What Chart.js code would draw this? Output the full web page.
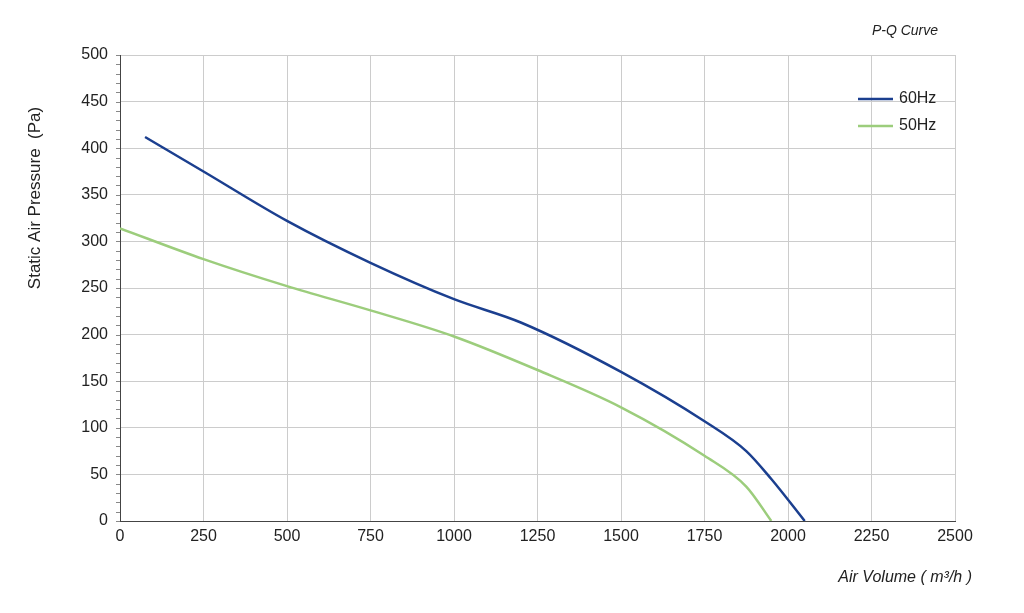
<!DOCTYPE html>
<html><head><meta charset="utf-8">
<script src="https://cdn.jsdelivr.net/npm/chart.js@4"></script>
<style>html,body{margin:0;background:#fff}#wrap{width:1024px;height:613px}</style>
</head><body><div id="wrap"><canvas id="c"></canvas></div>
<script>
const hz60X = [75, 250, 500, 750, 1000, 1200, 1500, 1750, 1875, 1950, 2050];
const hz60Y = [412, 375, 322, 277, 238, 213, 160, 107, 75, 45, 0];
const hz50X = [0, 250, 500, 750, 1000, 1250, 1500, 1750, 1875, 1950];
const hz50Y = [314, 281, 252, 226, 198, 162, 122, 70, 37, 0];
const seriesNames = ['60Hz', '50Hz'];
const seriesColors = ['#1b3f8f', '#9ccd7c'];

const zip = (xs, ys) => xs.map((x, i) => ({ x: x, y: ys[i] }));

const extras = {
  id: 'extras',
  afterDraw(chart) {
    const c = chart.ctx, a = chart.chartArea, ys = chart.scales.y;
    c.save();
    // minor ticks on y axis
    c.strokeStyle = '#888'; c.lineWidth = 1;
    for (let v = 0; v <= 500; v += 10) {
      const py = Math.round(ys.getPixelForValue(v)) + 0.5;
      c.beginPath(); c.moveTo(a.left - 4, py); c.lineTo(a.left, py); c.stroke();
    }
    c.fillStyle = '#222';
    c.font = 'italic 14px "Liberation Sans", Arial';
    c.textAlign = 'right'; c.textBaseline = 'middle';
    c.fillText('P-Q Curve', 938, 31);
    c.font = 'italic 16px "Liberation Sans", Arial';
    c.fillText('Air Volume ( m³/h )', 972, 578);
    c.translate(35, 198); c.rotate(-Math.PI / 2);
    c.textAlign = 'center';
    c.font = '17px "Liberation Sans", Arial';
    c.fillText('Static Air Pressure  (Pa)', 0, 0);
    c.restore();
    // legend
    c.save();
    c.font = '16px "Liberation Sans", Arial';
    c.textBaseline = 'middle';
    seriesNames.forEach((n, i) => {
      const y = 99 + i * 27;
      c.strokeStyle = seriesColors[i]; c.lineWidth = 2.5;
      c.beginPath(); c.moveTo(858, y); c.lineTo(893, y); c.stroke();
      c.fillStyle = '#222'; c.fillText(n, 899, y);
    });
    c.restore();
  }
};

const tickFont = { size: 16, family: '"Liberation Sans", Arial' };

new Chart(document.getElementById('c'), {
  type: 'line',
  data: {
    datasets: [
      { label: seriesNames[0], data: zip(hz60X, hz60Y), borderColor: seriesColors[0], borderWidth: 2.5, pointRadius: 0, cubicInterpolationMode: 'monotone' },
      { label: seriesNames[1], data: zip(hz50X, hz50Y), borderColor: seriesColors[1], borderWidth: 2.5, pointRadius: 0, cubicInterpolationMode: 'monotone' }
    ]
  },
  options: {
    responsive: true, maintainAspectRatio: false, animation: false,
    layout: { padding: { top: 55, right: 69, left: 0, bottom: 0 } },
    plugins: { legend: { display: false }, tooltip: { enabled: false } },
    scales: {
      x: {
        type: 'linear', min: 0, max: 2500,
        ticks: { stepSize: 250, color: '#222', font: tickFont, maxRotation: 0, padding: 6, callback: v => String(v) },
        grid: { color: '#cccccc', drawTicks: false },
        border: { color: '#444' },
        afterFit: s => { s.height = 92; }
      },
      y: {
        min: 0, max: 500,
        ticks: { stepSize: 50, color: '#222', font: tickFont, padding: 12, callback: v => String(v) },
        grid: { color: '#cccccc', drawTicks: false },
        border: { color: '#444' },
        afterFit: s => { s.width = 120; }
      }
    }
  },
  plugins: [extras]
});
</script></body></html>
